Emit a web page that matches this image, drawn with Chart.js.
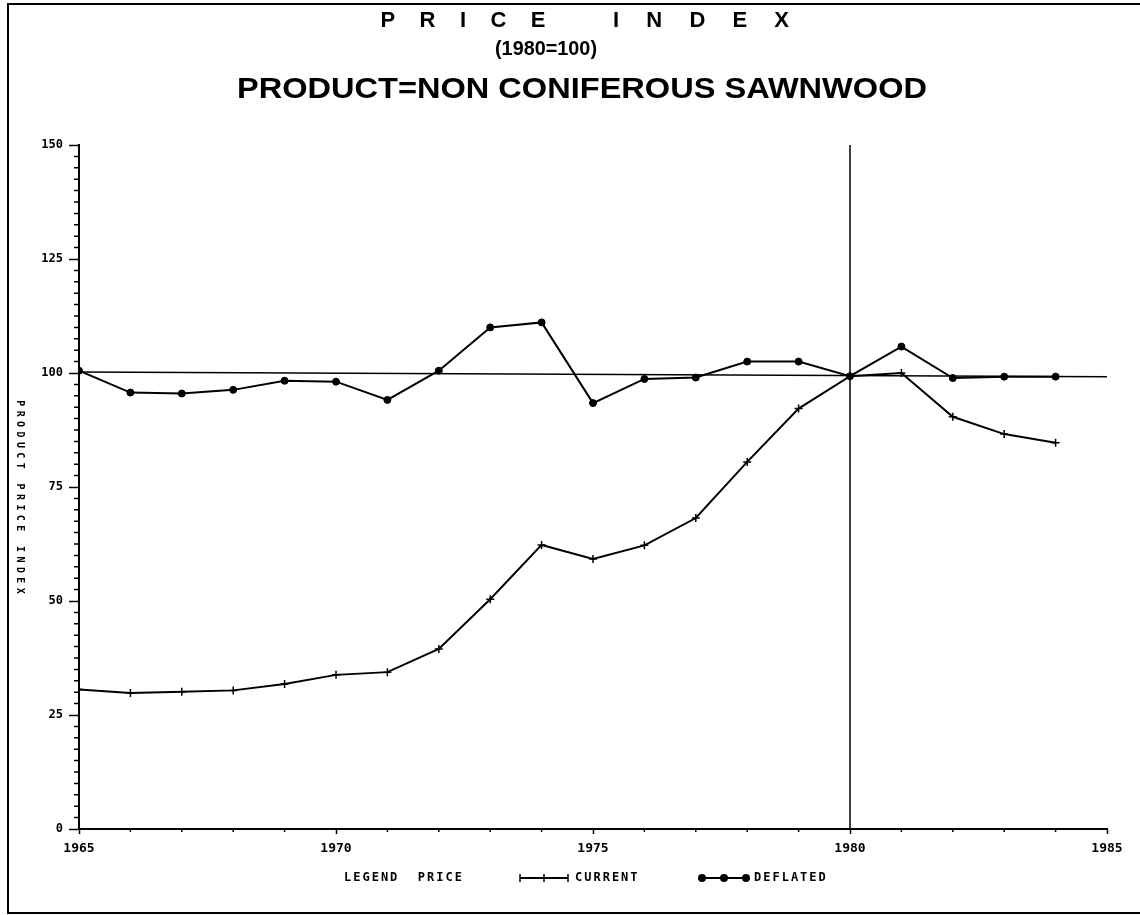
<!DOCTYPE html>
<html>
<head>
<meta charset="utf-8">
<script src="https://cdn.jsdelivr.net/npm/chart.js@4/dist/chart.umd.min.js"></script>
<style>
  html, body { margin: 0; padding: 0; background: #fff; }
  #wrap { width: 1140px; height: 915px; position: relative; }
</style>
</head>
<body>
<div id="wrap"><canvas id="c" width="1140" height="915"></canvas></div>
<script>
// ---------- DATA ----------
const years = [1965, 1966, 1967, 1968, 1969, 1970, 1971, 1972, 1973, 1974,
               1975, 1976, 1977, 1978, 1979, 1980, 1981, 1982, 1983, 1984];
const currentIndex  = [30.6, 29.8, 30.1, 30.4, 31.8, 33.8, 34.4, 39.5, 50.4, 62.3,
                       59.2, 62.2, 68.2, 80.5, 92.2, 99.3, 100.0, 90.4, 86.6, 84.7];
const deflatedIndex = [100.5, 95.7, 95.5, 96.3, 98.3, 98.1, 94.1, 100.5, 110.0, 111.1,
                       93.4, 98.7, 99.0, 102.5, 102.5, 99.3, 105.8, 98.9, 99.2, 99.2];
const baseLineYears  = [1965, 1985];
const baseLineValues = [100.2, 99.2];
const baseYear = 1980;
const yMajorTicks = [0, 25, 50, 75, 100, 125, 150];
const xMajorTicks = [1965, 1970, 1975, 1980, 1985];
const titleLine1Words = ['PRICE', 'INDEX'];
const titleLine2 = '(1980=100)';
const titleLine3 = 'PRODUCT=NON CONIFEROUS SAWNWOOD';
const yAxisTitle = 'PRODUCT PRICE INDEX';
const legendTitle = 'LEGEND  PRICE';
const seriesNames = ['CURRENT', 'DEFLATED'];

// ---------- HELPERS ----------
const MONO = '"DejaVu Sans Mono", "Liberation Mono", monospace';
const SANS = '"Liberation Sans", Arial, sans-serif';

function spacedText(ctx, text, x, y, spacing) {
  let cx = x;
  for (const ch of text) {
    ctx.fillText(ch, cx, y);
    cx += ctx.measureText(ch).width + spacing;
  }
  return cx - spacing;
}
function spacedWidth(ctx, text, spacing) {
  let w = 0;
  for (const ch of text) w += ctx.measureText(ch).width + spacing;
  return w - spacing;
}
function fitWord(ctx, text, cx, y, width) {
  let glyphs = 0;
  for (const ch of text) glyphs += ctx.measureText(ch).width;
  const sp = (width - glyphs) / (text.length - 1);
  spacedText(ctx, text, cx - width / 2, y, sp);
}
function stretchedText(ctx, text, cx, y, width) {
  const w = ctx.measureText(text).width;
  ctx.save();
  ctx.translate(cx, y);
  ctx.scale(width / w, 1);
  ctx.textAlign = 'center';
  ctx.fillText(text, 0, 0);
  ctx.restore();
}

const pagePlugin = {
  id: 'page',
  beforeDraw(chart) {
    const ctx = chart.ctx;
    ctx.save();
    ctx.fillStyle = '#fff';
    ctx.fillRect(0, 0, chart.width, chart.height);
    ctx.restore();
  },
  afterDraw(chart) {
    const ctx = chart.ctx;
    const xs = chart.scales.x, ys = chart.scales.y;
    ctx.save();
    ctx.strokeStyle = '#000';
    ctx.fillStyle = '#000';

    // frame
    ctx.lineWidth = 2;
    ctx.beginPath();
    ctx.moveTo(1140, 4); ctx.lineTo(8, 4); ctx.lineTo(8, 913); ctx.lineTo(1140, 913);
    ctx.stroke();

    // minor ticks
    ctx.lineWidth = 1.5;
    ctx.beginPath();
    for (let v = 0; v <= 150; v += 2.5) {
      if (yMajorTicks.includes(v)) continue;
      const py = ys.getPixelForValue(v);
      ctx.moveTo(xs.left - 5, py); ctx.lineTo(xs.left, py);
    }
    for (let v = 1965; v <= 1985; v += 1) {
      if (xMajorTicks.includes(v)) continue;
      const px = xs.getPixelForValue(v);
      ctx.moveTo(px, ys.bottom); ctx.lineTo(px, ys.bottom + 3);
    }
    ctx.stroke();

    // titles
    ctx.textBaseline = 'middle';
    ctx.font = 'bold 22px ' + SANS;
    fitWord(ctx, titleLine1Words[0], 463, 21, 165);
    fitWord(ctx, titleLine1Words[1], 701, 21, 176);
    ctx.font = 'bold 21px ' + SANS;
    stretchedText(ctx, titleLine2, 546, 49, 102);
    ctx.font = 'bold 30px ' + SANS;
    stretchedText(ctx, titleLine3, 582, 90, 690);

    // y axis title (rotated, reading top to bottom)
    ctx.save();
    ctx.font = 'bold 10px ' + MONO;
    ctx.textAlign = 'left';
    const sp = 4.4;
    const w = spacedWidth(ctx, yAxisTitle, sp);
    ctx.translate(20, 497);
    ctx.rotate(Math.PI / 2);
    spacedText(ctx, yAxisTitle, -w / 2, 0, sp);
    ctx.restore();

    // legend
    const ly = 878;
    ctx.textAlign = 'left';
    ctx.font = 'bold 12px ' + MONO;
    spacedText(ctx, legendTitle, 344, ly, 2);
    const items = [
      { ds: chart.data.datasets[2], x0: 520, x1: 568, tx: 575 },
      { ds: chart.data.datasets[3], x0: 702, x1: 746, tx: 754 }
    ];
    items.forEach(it => {
      ctx.lineWidth = 2;
      ctx.beginPath(); ctx.moveTo(it.x0, ly); ctx.lineTo(it.x1, ly); ctx.stroke();
      const pts = [it.x0, (it.x0 + it.x1) / 2, it.x1];
      pts.forEach(px => {
        if (it.ds.pointStyle === 'circle') {
          ctx.beginPath(); ctx.arc(px, ly, 4, 0, Math.PI * 2); ctx.fill();
        } else {
          ctx.lineWidth = 1.5;
          ctx.beginPath(); ctx.moveTo(px, ly - 4); ctx.lineTo(px, ly + 4); ctx.stroke();
        }
      });
      spacedText(ctx, it.ds.label, it.tx, ly, 2);
    });
    ctx.restore();
  }
};

const toXY = (xsArr, ysArr) => xsArr.map((x, i) => ({ x, y: ysArr[i] }));

new Chart(document.getElementById('c'), {
  type: 'line',
  data: {
    datasets: [
      {
        label: 'base', data: toXY(baseLineYears, baseLineValues),
        borderColor: '#000', borderWidth: 1.5, pointRadius: 0, tension: 0
      },
      {
        label: 'year', data: toXY([baseYear, baseYear], [0, 150]),
        borderColor: '#000', borderWidth: 1.5, pointRadius: 0, tension: 0
      },
      {
        label: seriesNames[0], data: toXY(years, currentIndex),
        borderColor: '#000', borderWidth: 2, tension: 0,
        pointStyle: 'cross', pointRadius: 4, pointBorderWidth: 1.5,
        pointBorderColor: '#000', pointBackgroundColor: '#000'
      },
      {
        label: seriesNames[1], data: toXY(years, deflatedIndex),
        borderColor: '#000', borderWidth: 2, tension: 0,
        pointStyle: 'circle', pointRadius: 3.5, pointBorderWidth: 1,
        pointBorderColor: '#000', pointBackgroundColor: '#000'
      }
    ]
  },
  options: {
    responsive: false,
    animation: false,
    layout: { padding: { left: 0, top: 145, right: 33, bottom: 46 } },
    plugins: { legend: { display: false }, tooltip: { enabled: false }, title: { display: false } },
    scales: {
      x: {
        type: 'linear', min: 1965, max: 1985,
        afterFit: s => { s.height = 40; },
        ticks: {
          stepSize: 1, autoSkip: false, maxRotation: 0, padding: 7,
          color: '#000', font: { family: MONO, weight: 'bold', size: 13 },
          callback: v => xMajorTicks.includes(v) ? String(v) : ''
        },
        grid: {
          drawOnChartArea: false, drawTicks: true, tickLength: 5,
          tickColor: ctx => (ctx.tick && xMajorTicks.includes(ctx.tick.value)) ? '#000' : 'rgba(0,0,0,0)',
          tickWidth: 1.5
        },
        border: { display: true, color: '#000', width: 2 }
      },
      y: {
        type: 'linear', min: 0, max: 150,
        afterFit: s => { s.width = 79; },
        ticks: {
          stepSize: 2.5, autoSkip: false, padding: 6,
          color: '#000', font: { family: MONO, weight: 'bold', size: 12 },
          callback: v => yMajorTicks.includes(v) ? String(v) : ''
        },
        grid: {
          drawOnChartArea: false, drawTicks: true, tickLength: 10,
          tickColor: ctx => (ctx.tick && yMajorTicks.includes(ctx.tick.value)) ? '#000' : 'rgba(0,0,0,0)',
          tickWidth: 1.5
        },
        border: { display: true, color: '#000', width: 2 }
      }
    }
  },
  plugins: [pagePlugin]
});
</script>
</body>
</html>
